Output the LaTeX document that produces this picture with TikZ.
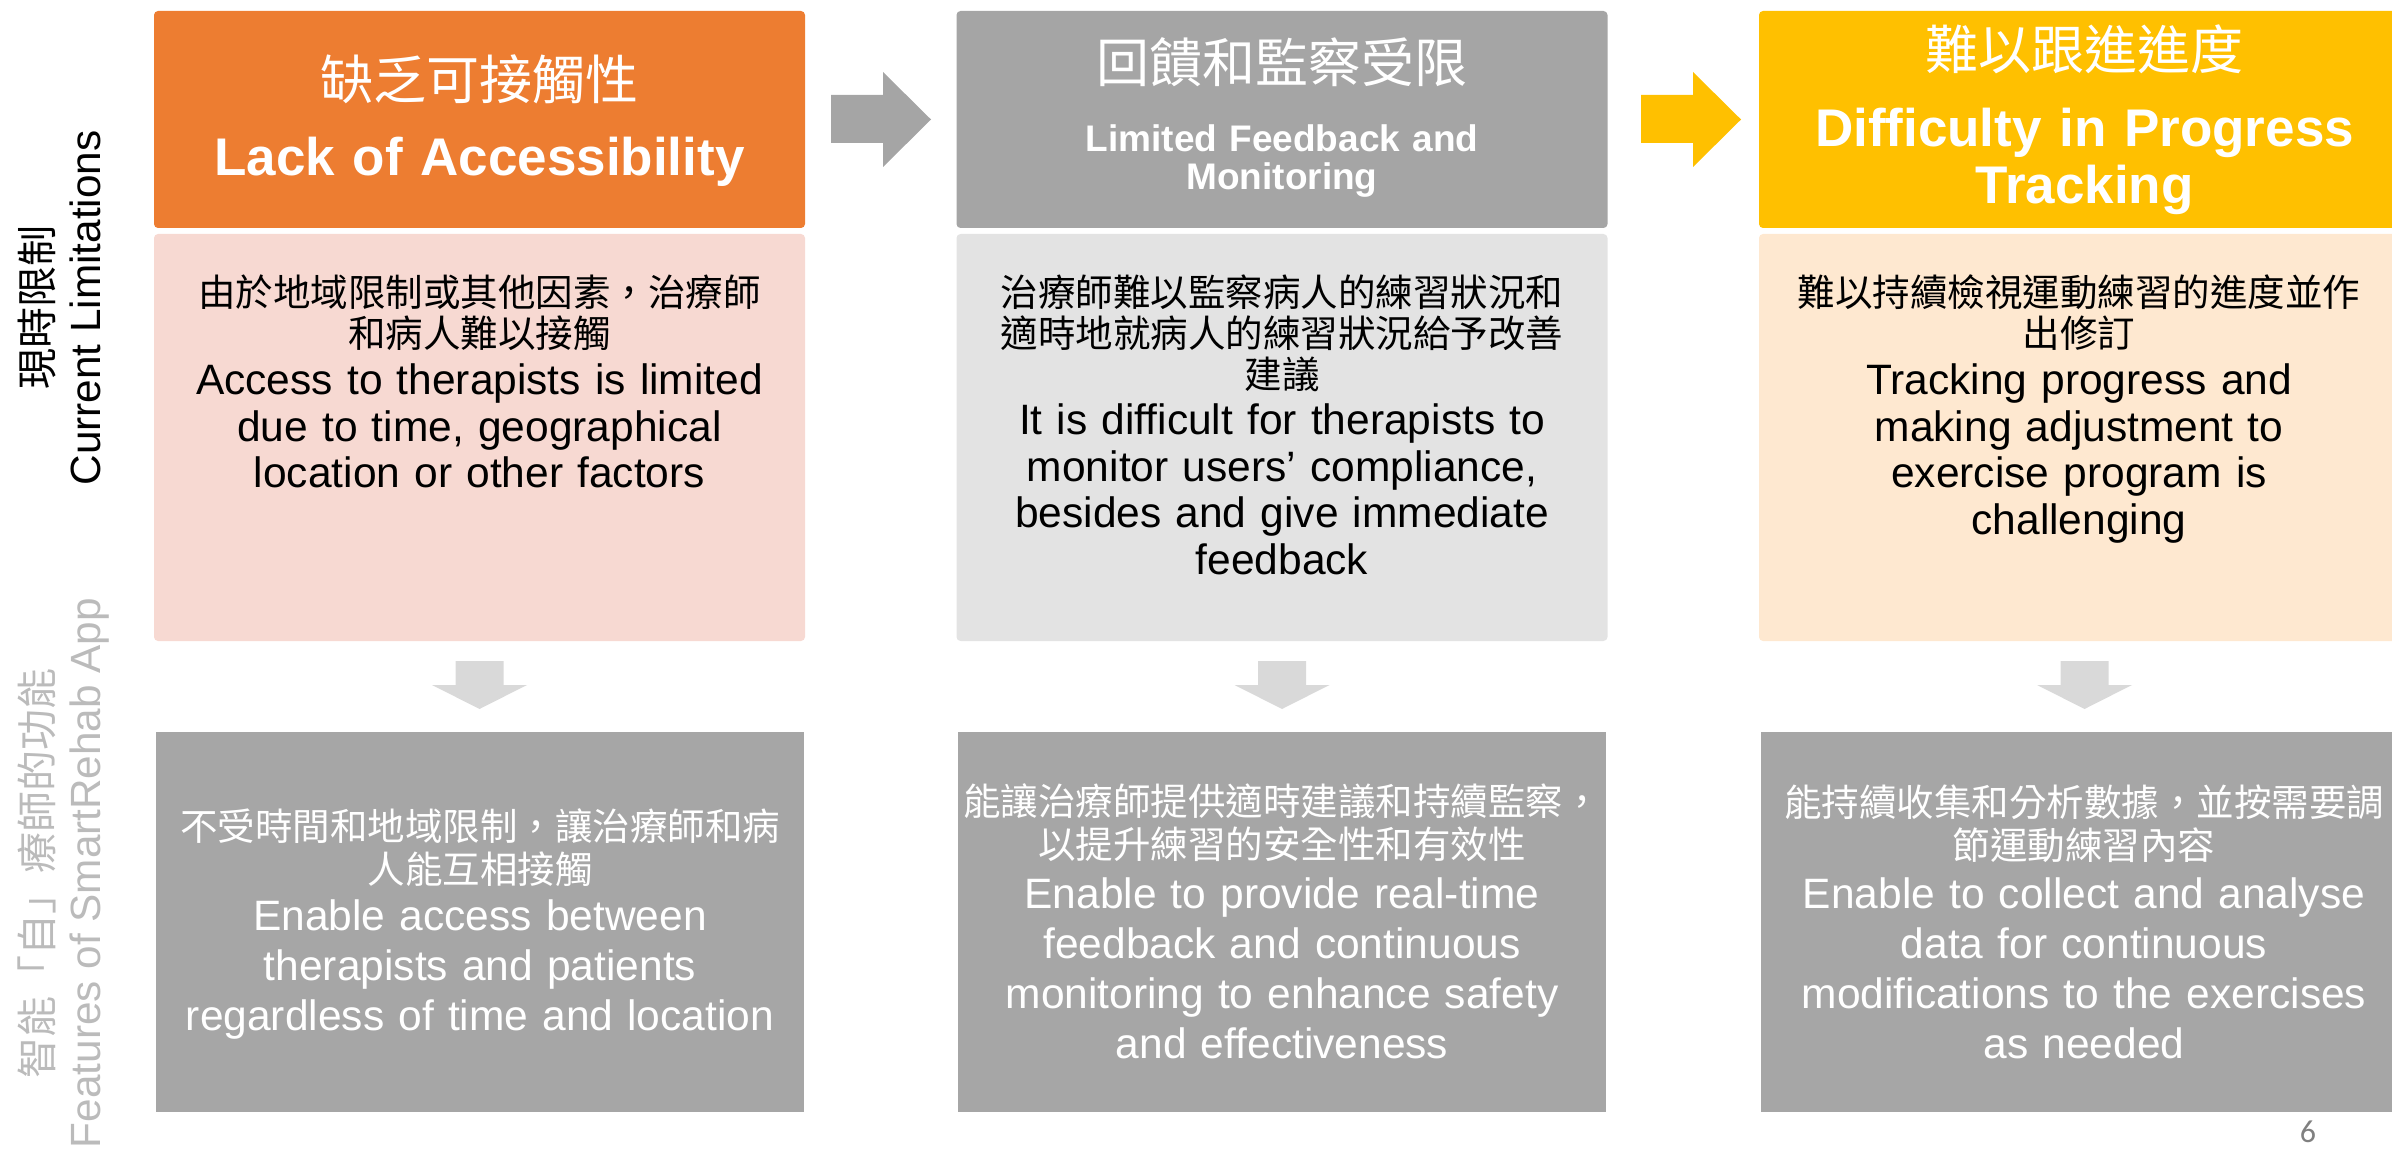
\documentclass[tikz,border=0pt]{standalone}
\usepackage{fontspec}
\setmainfont{Liberation Sans}
\newfontfamily\cjk{Noto Sans CJK TC}
\newfontfamily\numfont{Carlito}

\definecolor{hdrorange}{HTML}{ED7D31}
\definecolor{hdrgray}{HTML}{A5A5A5}
\definecolor{hdryellow}{HTML}{FFC000}
\definecolor{tintorange}{HTML}{F7D9D2}
\definecolor{tintgray}{HTML}{E3E3E3}
\definecolor{tintyellow}{HTML}{FEE8D0}
\definecolor{featgray}{HTML}{A6A6A6}
\definecolor{downgray}{HTML}{D9D9D9}
\definecolor{sidegray}{HTML}{BBBBBB}
\definecolor{pagegray}{HTML}{808080}

\begin{document}
\begin{tikzpicture}[x=0.5pt,y=-0.5pt,
  box/.style={rectangle, inner sep=0pt, outer sep=0pt},
  header/.style={box, rounded corners=2pt, minimum width=325.5pt, minimum height=108.5pt},
  detail/.style={box, rounded corners=2pt, minimum width=325.5pt, minimum height=203.5pt},
  feature/.style={box, fill=featgray, minimum width=324pt, minimum height=190pt},
  txt/.style={anchor=base, inner sep=0pt, align=center, text width=345pt},
  cjktitle/.style={txt, text=white, font=\cjk\fontsize{26.5}{30}\selectfont},
  entitle/.style={txt, text=white, font=\bfseries\fontsize{26.5}{28.5}\selectfont},
  ensub/.style={txt, text=white, font=\bfseries\fontsize{18.5}{19}\selectfont},
  cjkbody/.style={txt, font=\cjk\fontsize{18.75}{20.5}\selectfont},
  enbody/.style={txt, font=\fontsize{21.25}{23.25}\selectfont},
  cjkfeat/.style={txt, text=white, font=\cjk\fontsize{18.75}{21.5}\selectfont},
  enfeat/.style={txt, text=white, font=\fontsize{21.25}{25}\selectfont},
  sidecjk/.style={anchor=base, inner sep=0pt, rotate=90, font=\cjk\fontsize{20.5}{22}\selectfont},
  sideen/.style={anchor=base, inner sep=0pt, rotate=90, font=\fontsize{21.15}{23}\selectfont},
]
\useasboundingbox (0,0) rectangle (2392,1149);
\clip (0,0) rectangle (2392,1149);

% ---- row labels ----
\node[sidecjk] (lblcur) at (52,308) {現時限制};
\node[sideen] (lblcuren) at (100,308) {Current Limitations};
\node[sidecjk, text=sidegray] (lblfeat) at (52,873) {智能「自」療師的功能};
\node[sideen, text=sidegray] (lblfeaten) at (100,873) {Features of SmartRehab App};

% ---- header boxes ----
\node[header, fill=hdrorange] (h1) at (479.5,119.5) {};
\node[header, fill=hdrgray]   (h2) at (1282,119.5) {};
\node[header, fill=hdryellow] (h3) at (2084.5,119.5) {};

\node[cjktitle] (h1c) at (479.5,100) {缺乏可接觸性};
\node[entitle]  (h1e) at (479.5,176) {Lack of Accessibility};
\node[cjktitle] (h2c) at (1282,82.5) {回饋和監察受限};
\node[ensub]    (h2e) at (1282,152) {Limited Feedback and\\Monitoring};
\node[cjktitle] (h3c) at (2084.5,70) {難以跟進進度};
\node[entitle]  (h3e) at (2084.5,147) {Difficulty in Progress\\Tracking};

% ---- arrows between headers ----
\fill[hdrgray] (831,95) -- (883,95) -- (883,72) -- (931,119.5) -- (883,167)
  -- (883,143) -- (831,143) -- cycle;
\fill[hdryellow] (1641,95) -- (1693,95) -- (1693,72) -- (1741,119.5) -- (1693,167)
  -- (1693,143) -- (1641,143) -- cycle;

% ---- limitation detail boxes ----
\node[detail, fill=tintorange] (d1) at (479.5,437.5) {};
\node[detail, fill=tintgray]   (d2) at (1282,437.5) {};
\node[detail, fill=tintyellow] (d3) at (2084.5,437.5) {};

\node[cjkbody] (d1c) at (479.5,307) {由於地域限制或其他因素，治療師\\和病人難以接觸};
\node[enbody]  (d1e) at (479.5,395) {Access to therapists is limited\\due to time, geographical\\location or other factors};
\node[cjkbody] (d2c) at (1282,307) {治療師難以監察病人的練習狀況和\\適時地就病人的練習狀況給予改善\\建議};
\node[enbody]  (d2e) at (1282,435) {It is difficult for therapists to\\monitor users’ compliance,\\besides and give immediate\\feedback};
\node[cjkbody] (d3c) at (2079,307) {難以持續檢視運動練習的進度並作\\出修訂};
\node[enbody]  (d3e) at (2079,395) {Tracking progress and\\making adjustment to\\exercise program is\\challenging};

% ---- down arrows ----
\foreach \cx in {479.5,1282,2084.5}{
  \fill[downgray] (\cx-24,661) -- (\cx+24,661) -- (\cx+24,685) -- (\cx+47.5,685)
    -- (\cx,709) -- (\cx-47.5,685) -- (\cx-24,685) -- cycle;
}

% ---- feature boxes ----
\node[feature] (f1) at (480,922) {};
\node[feature] (f2) at (1282,922) {};
\node[feature] (f3) at (2084.5,922) {};

\node[cjkfeat] (f1c) at (480,840) {不受時間和地域限制，讓治療師和病\\人能互相接觸};
\node[enfeat]  (f1e) at (480,930) {Enable access between\\therapists and patients\\regardless of time and location};
\node[cjkfeat] (f2c) at (1282,815) {能讓治療師提供適時建議和持續監察，\\以提升練習的安全性和有效性};
\node[enfeat]  (f2e) at (1282,908) {Enable to provide real-time\\feedback and continuous\\monitoring to enhance safety\\and effectiveness};
\node[cjkfeat] (f3c) at (2084,816) {能持續收集和分析數據，並按需要調\\節運動練習內容};
\node[enfeat]  (f3e) at (2084,908) {Enable to collect and analyse\\data for continuous\\modifications to the exercises\\as needed};

% ---- page number ----
\node[inner sep=0pt, text=pagegray, font=\numfont\fontsize{16}{18}\selectfont] (pg) at (2308,1132) {6};
\end{tikzpicture}
\end{document}
